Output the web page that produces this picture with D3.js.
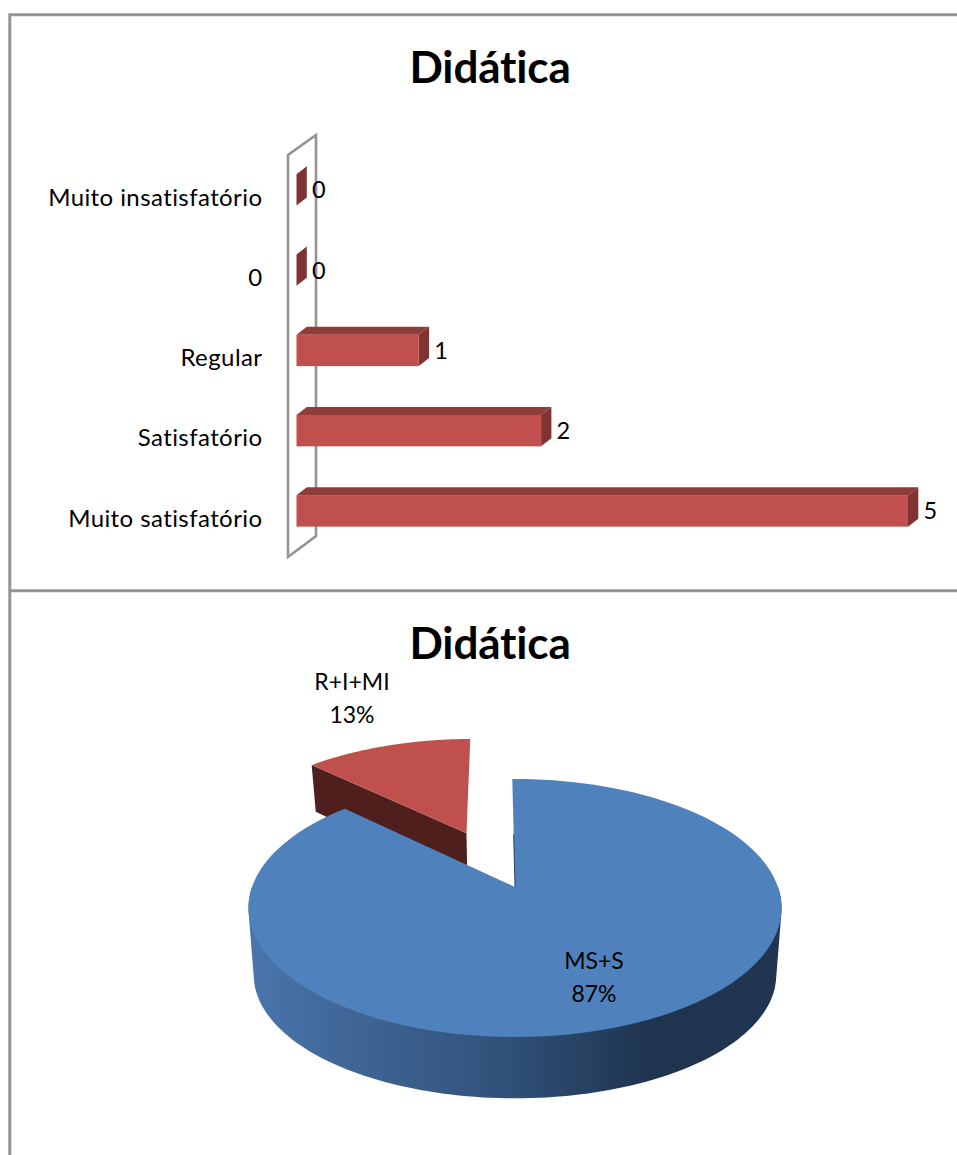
<!DOCTYPE html>
<html>
<head>
<meta charset="utf-8">
<script src="https://cdn.jsdelivr.net/npm/d3@7"></script>
<style>
  html, body { margin: 0; padding: 0; background: #fff; }
  svg { display: block; }
  text { font-family: Lato, "Open Sans", sans-serif; fill: #000; font-variant-ligatures: none; }
</style>
</head>
<body>
<script>
const w = 957;
const h = 1155;

const title = "Didática";

// bar chart
const barCategories = ["Muito insatisfatório", "0", "Regular", "Satisfatório", "Muito satisfatório"];
const barValues = [0, 0, 1, 2, 5];

// pie chart
const pieLabels = ["MS+S", "R+I+MI"];
const pieValues = [87.4, 12.6];

let svg = d3.select("body").append("svg")
    .attr("width", w)
    .attr("height", h)
    .style("background-color", "#fff");

// frame
svg.append("path")
    .attr("d", "M9.8,1155V14.8H957M9.8,590.8H957")
    .attr("fill", "none")
    .attr("stroke", "#949494")
    .attr("stroke-width", 3);

function addTitle(y) {
    svg.append("text")
        .attr("x", 490)
        .attr("y", y)
        .attr("text-anchor", "middle")
        .attr("font-size", 44)
        .attr("font-weight", 700)
        .attr("letter-spacing", -0.15)
        .text(title);
}
addTitle(83);
addTitle(659);

// ---- bars ----
const x = d3.scaleLinear().domain([0, 5]).range([296.5, 908]);
const y = d3.scaleBand().domain(barCategories).range([134, 566.75]).paddingInner(0.6075).paddingOuter(0.5);
const depthX = 10.3;
const depthY = 8;
const barTop = function (d, i) { return y(barCategories[i]); };

// back wall of the 3d plot
const wall = svg.append("g")
    .attr("fill", "none")
    .attr("stroke", "#949494")
    .attr("stroke-width", 2.6);
wall.append("path")
    .attr("d", "M288,155V557L316,536V135L288,155Z");

const bars = svg.append("g");
// top face
bars.selectAll(".top").data(barValues).join("path")
    .attr("fill", "#8e3d3b")
    .attr("d", function (d, i) {
        const t = barTop(d, i);
        return d3.line()([[x(0), t], [x(0) + depthX, t - depthY], [x(d) + depthX, t - depthY], [x(d), t]]) + "Z";
    });
// side face
bars.selectAll(".side").data(barValues).join("path")
    .attr("fill", "#7f3431")
    .attr("d", function (d, i) {
        const t = barTop(d, i);
        const b = y.bandwidth();
        return d3.line()([[x(d), t], [x(d) + depthX, t - depthY], [x(d) + depthX, t + b - depthY], [x(d), t + b]]) + "Z";
    });
// front face
bars.selectAll(".front").data(barValues).join("rect")
    .attr("x", x(0))
    .attr("y", barTop)
    .attr("width", function (d) { return x(d) - x(0); })
    .attr("height", y.bandwidth())
    .attr("fill", "#c0504d");

// value labels
svg.append("g").selectAll("text").data(barValues).join("text")
    .attr("x", function (d) { return x(d) + 15.5; })
    .attr("y", function (d, i) { return barTop(d, i) + y.bandwidth() / 2 + 8.5; })
    .attr("font-size", 23.5)
    .text(function (d) { return d; });

// category labels
const yAxis = svg.append("g")
    .attr("transform", "translate(262.5,8)")
    .call(d3.axisLeft(y).tickSize(0).tickPadding(0));
yAxis.select(".domain").remove();
yAxis.selectAll("text")
    .attr("font-size", 24)
    .attr("letter-spacing", 0.42)
    .style("font-family", "Lato")
    .style("fill", "#000");

// ---- pie ----
const tilt = -0.012;
const pie = d3.pie().sort(null).startAngle(tilt).endAngle(2 * Math.PI + tilt).value(function (d) { return d; });
const slices = pie(pieValues);

const apexX = 515;
const apexY = 887;
const radiusX = 263;
const persp = 0.1628;

// disk coordinates of a pie angle
function disk(a, r) { return [r * Math.sin(a), -r * Math.cos(a)]; }
// disk -> screen, top face
function topFace(u, v) {
    const k = 1 - persp * v;
    return [apexX + radiusX * u / k, apexY + 125.6 * v / k];
}
// disk -> screen, bottom of the exploded slice
function redBottom(u, v) {
    const k = 1 - persp * v;
    return [apexX + 0.98 * radiusX * u / k, 940 + 132 * v / k];
}
// disk -> screen, bottom of the big slice
function blueBottom(u, v) {
    const k = 1 - persp * v;
    return [apexX + 0.98 * radiusX * u / k, 955 + 120 * v / k];
}

function arcPoints(off, face, a0, a1) {
    const n = 120;
    return d3.range(n + 1).map(function (i) {
        const a = a0 + (a1 - a0) * i / n;
        const p = disk(a, 1);
        return face(p[0] + off[0], p[1] + off[1]);
    });
}

const defs = svg.append("defs");
const grad = defs.append("linearGradient")
    .attr("id", "blueSide")
    .attr("gradientUnits", "userSpaceOnUse")
    .attr("x1", 249).attr("x2", 782).attr("y1", 0).attr("y2", 0);
[[0, "#4a76ac"], [0.15, "#42699b"], [0.5, "#2f4f77"], [0.75, "#1f344f"], [1, "#1f3550"]].forEach(function (s) {
    grad.append("stop").attr("offset", s[0]).attr("stop-color", s[1]);
});

const line = d3.line();

// exploded slice, dark cut face first
const red = slices[1];
const mid = (red.startAngle + red.endAngle) / 2;
const redOff = disk(mid, 0.5);
const redEdge = disk(red.startAngle, 1);
const edgeTip = [redEdge[0] + redOff[0], redEdge[1] + redOff[1]];
svg.append("path")
    .attr("fill", "#4f1f1d")
    .attr("d", line([
        topFace(edgeTip[0], edgeTip[1]),
        topFace(redOff[0], redOff[1]),
        redBottom(redOff[0], redOff[1]),
        redBottom(edgeTip[0], edgeTip[1])
    ]) + "Z");
svg.append("path")
    .attr("fill", "#c0504d")
    .attr("d", line([topFace(redOff[0], redOff[1])].concat(arcPoints(redOff, topFace, red.startAngle, red.endAngle))) + "Z");

// big slice: front wall as the hull of both rims, then the top face
const blue = slices[0];
const frontRims = arcPoints([0, 0], topFace, Math.PI * 0.5, Math.PI * 1.5)
    .concat(arcPoints([0, 0], blueBottom, Math.PI * 0.5, Math.PI * 1.5));
svg.append("path")
    .attr("fill", "url(#blueSide)")
    .attr("d", line(d3.polygonHull(frontRims)) + "Z");
const startTip = disk(blue.startAngle, 1);
svg.append("path")
    .attr("fill", "#4f81bd")
    .attr("d", line([topFace(0, 0)].concat(arcPoints([0, 0], topFace, blue.startAngle, blue.endAngle))) + "Z");
// thin cut face along the start of the big slice
svg.append("path")
    .attr("fill", "none")
    .attr("stroke", "#1f3550")
    .attr("stroke-width", 0.9)
    .attr("d", line([topFace(0, 0), topFace(startTip[0] * 0.45, startTip[1] * 0.45)]));

// pie labels
const pieLabelPos = [[594, 969], [352, 690]];
slices.forEach(function (s, i) {
    const t = svg.append("text")
        .attr("text-anchor", "middle")
        .attr("font-size", 23);
    t.append("tspan").attr("x", pieLabelPos[i][0]).attr("y", pieLabelPos[i][1]).text(pieLabels[i]);
    t.append("tspan").attr("x", pieLabelPos[i][0]).attr("dy", 33).text(Math.round(s.value) + "%");
});
</script>
</body>
</html>
